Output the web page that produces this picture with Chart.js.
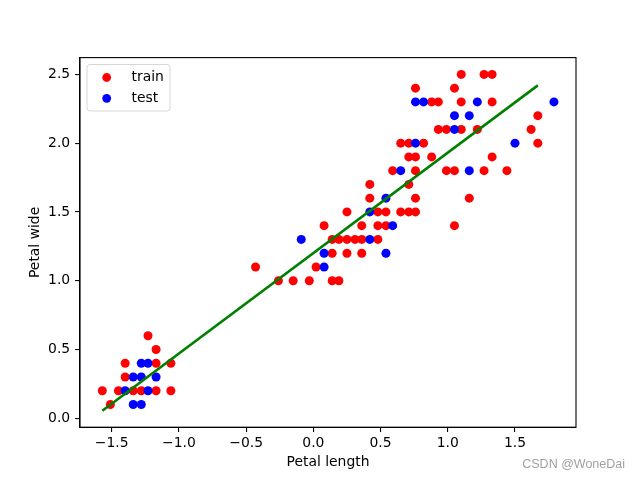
<!DOCTYPE html>
<html>
<head>
<meta charset="utf-8">
<script src="https://cdn.jsdelivr.net/npm/chart.js@4"></script>
<style>
html,body{margin:0;padding:0;background:#fff;}
#wrap{width:640px;height:480px;}
</style>
</head>
<body>
<div id="wrap"><canvas id="c" width="640" height="480"></canvas></div>
<script>
// Standardized petal length (x) and petal width (y)
const trainLength = [
  -1.51,
  -1.57, -1.45, -1.34, -1.28, -1.17, -1.06,
  -1.40,
  -1.40, -1.17, -1.06,
  -1.17,
  -1.23,
  -0.26, -0.15, -0.03, 0.14, 0.19,
  -0.43, 0.02,
  0.14, 0.25, 0.36,
  0.14, 0.19, 0.25, 0.31, 0.36, 0.48,
  0.08, 0.36, 0.48, 0.54, 1.05,
  0.25, 0.48, 0.54, 0.65, 0.71, 0.76,
  0.42, 0.76, 1.16,
  0.42, 0.71,
  0.59, 0.76, 0.99, 1.05, 1.27, 1.44,
  0.71, 0.76, 0.88, 1.33,
  0.65, 0.71, 0.82, 1.67,
  0.93, 0.99, 1.10, 1.22, 1.62,
  1.67,
  0.88, 0.93, 1.10, 1.33,
  0.76, 1.05,
  1.10, 1.27, 1.33
];
const trainWidth = [
  0.1,
  0.2, 0.2, 0.2, 0.2, 0.2, 0.2,
  0.3,
  0.4, 0.4, 0.4,
  0.5,
  0.6,
  1.0, 1.0, 1.0, 1.0, 1.0,
  1.1, 1.1,
  1.2, 1.2, 1.2,
  1.3, 1.3, 1.3, 1.3, 1.3, 1.3,
  1.4, 1.4, 1.4, 1.4, 1.4,
  1.5, 1.5, 1.5, 1.5, 1.5, 1.5,
  1.6, 1.6, 1.6,
  1.7, 1.7,
  1.8, 1.8, 1.8, 1.8, 1.8, 1.8,
  1.9, 1.9, 1.9, 1.9,
  2.0, 2.0, 2.0, 2.0,
  2.1, 2.1, 2.1, 2.1, 2.1,
  2.2,
  2.3, 2.3, 2.3, 2.3,
  2.4, 2.4,
  2.5, 2.5, 2.5
];
const testLength = [
  -1.34, -1.28,
  -1.40, -1.23,
  -1.34, -1.28, -1.17,
  -1.28, -1.23,
  0.08,
  0.08, 0.54,
  -0.09, 0.42,
  0.59,
  0.42,
  0.54,
  0.65, 1.16,
  0.76, 1.50,
  1.05,
  1.05, 1.16,
  0.76, 0.82, 1.22, 1.79
];
const testWidth = [
  0.1, 0.1,
  0.2, 0.2,
  0.3, 0.3, 0.3,
  0.4, 0.4,
  1.1,
  1.2, 1.2,
  1.3, 1.3,
  1.4,
  1.5,
  1.6,
  1.8, 1.8,
  2.0, 2.0,
  2.1,
  2.2, 2.2,
  2.3, 2.3, 2.3, 2.3
];
const fitLength = [-1.57, 1.67];
const fitWidth = [0.055, 2.42];
const seriesLabels = ['train', 'test'];
const xTicks = [-1.5, -1.0, -0.5, 0.0, 0.5, 1.0, 1.5];
const yTicks = [0.0, 0.5, 1.0, 1.5, 2.0, 2.5];
const xTitle = 'Petal length';
const yTitle = 'Petal wide';
const watermark = 'CSDN @WoneDai';

const toPts = (xs, ys) => xs.map((x, i) => ({x: x, y: ys[i]}));
const fmt = v => v.toFixed(1).replace('-', '\u2212');
const FONT = 'DejaVu Sans';
const FS = 13.9;

const framePlugin = {
  id: 'frame',
  afterDraw(chart) {
    const ctx = chart.ctx, a = chart.chartArea;
    ctx.save();
    ctx.strokeStyle = '#000';
    ctx.lineWidth = 1.1;
    ctx.strokeRect(a.left, a.top, a.right - a.left, a.bottom - a.top);
    // legend
    const lx = 87, ly = 64.5, lw = 83, lh = 46.5, r = 3;
    ctx.beginPath();
    ctx.moveTo(lx + r, ly);
    ctx.lineTo(lx + lw - r, ly);
    ctx.quadraticCurveTo(lx + lw, ly, lx + lw, ly + r);
    ctx.lineTo(lx + lw, ly + lh - r);
    ctx.quadraticCurveTo(lx + lw, ly + lh, lx + lw - r, ly + lh);
    ctx.lineTo(lx + r, ly + lh);
    ctx.quadraticCurveTo(lx, ly + lh, lx, ly + lh - r);
    ctx.lineTo(lx, ly + r);
    ctx.quadraticCurveTo(lx, ly, lx + r, ly);
    ctx.closePath();
    ctx.fillStyle = 'rgba(255,255,255,0.8)';
    ctx.fill();
    ctx.strokeStyle = 'rgba(204,204,204,0.8)';
    ctx.lineWidth = 1;
    ctx.stroke();
    const rows = [[seriesLabels[0], 'red', 77.5], [seriesLabels[1], 'blue', 98.3]];
    ctx.font = FS + 'px "' + FONT + '"';
    ctx.textBaseline = 'middle';
    ctx.textAlign = 'left';
    rows.forEach(([t, c, y]) => {
      ctx.beginPath();
      ctx.arc(106.7, y, 4.4, 0, Math.PI * 2);
      ctx.fillStyle = c;
      ctx.fill();
      ctx.fillStyle = '#000';
      ctx.fillText(t, 131.5, y);
    });
    // watermark
    ctx.font = '12.5px "Liberation Sans"';
    ctx.fillStyle = 'rgba(150,150,150,0.9)';
    ctx.textAlign = 'right';
    ctx.fillText(watermark, 625, 465);
    ctx.restore();
  }
};

new Chart(document.getElementById('c'), {
  data: {
    datasets: [
      {type: 'line', label: 'fit', data: toPts(fitLength, fitWidth), borderColor: 'green',
       borderWidth: 2.6, pointRadius: 0, fill: false, order: 0},
      {type: 'scatter', label: seriesLabels[1], data: toPts(testLength, testWidth), backgroundColor: 'blue',
       borderWidth: 0, pointRadius: 4.5, pointHoverRadius: 4.5, order: 1},
      {type: 'scatter', label: seriesLabels[0], data: toPts(trainLength, trainWidth), backgroundColor: 'red',
       borderWidth: 0, pointRadius: 4.5, pointHoverRadius: 4.5, order: 2}
    ]
  },
  options: {
    responsive: false,
    animation: false,
    devicePixelRatio: 1,
    layout: {padding: {left: 0, right: 64, top: 57.6, bottom: 0}},
    plugins: {legend: {display: false}, tooltip: {enabled: false}},
    scales: {
      x: {
        type: 'linear', position: 'bottom', min: -1.736, max: 1.954,
        afterBuildTicks: s => { s.ticks = xTicks.map(v => ({value: v})); },
        afterFit: s => { s.height = 52.8; },
        grid: {display: true, drawOnChartArea: false, drawTicks: true, tickLength: 4.9, color: '#000', lineWidth: 1.1},
        border: {display: true, color: '#000', width: 1.1},
        ticks: {color: '#000', padding: 3, font: {family: FONT, size: FS}, callback: v => fmt(v), maxRotation: 0},
        title: {display: true, text: xTitle, color: '#000', font: {family: FONT, size: FS}, padding: {top: 0, bottom: 9.6}}
      },
      y: {
        type: 'linear', position: 'left', min: -0.065, max: 2.622,
        afterBuildTicks: s => { s.ticks = yTicks.map(v => ({value: v})); },
        afterFit: s => { s.width = 80; },
        grid: {display: true, drawOnChartArea: false, drawTicks: true, tickLength: 4.9, color: '#000', lineWidth: 1.1},
        border: {display: true, color: '#000', width: 1.1},
        ticks: {color: '#000', padding: 4.9, font: {family: FONT, size: FS}, callback: v => fmt(v)},
        title: {display: true, text: yTitle, color: '#000', font: {family: FONT, size: FS}, padding: {top: 26.6, bottom: 0}}
      }
    }
  },
  plugins: [framePlugin]
});
</script>
</body>
</html>
